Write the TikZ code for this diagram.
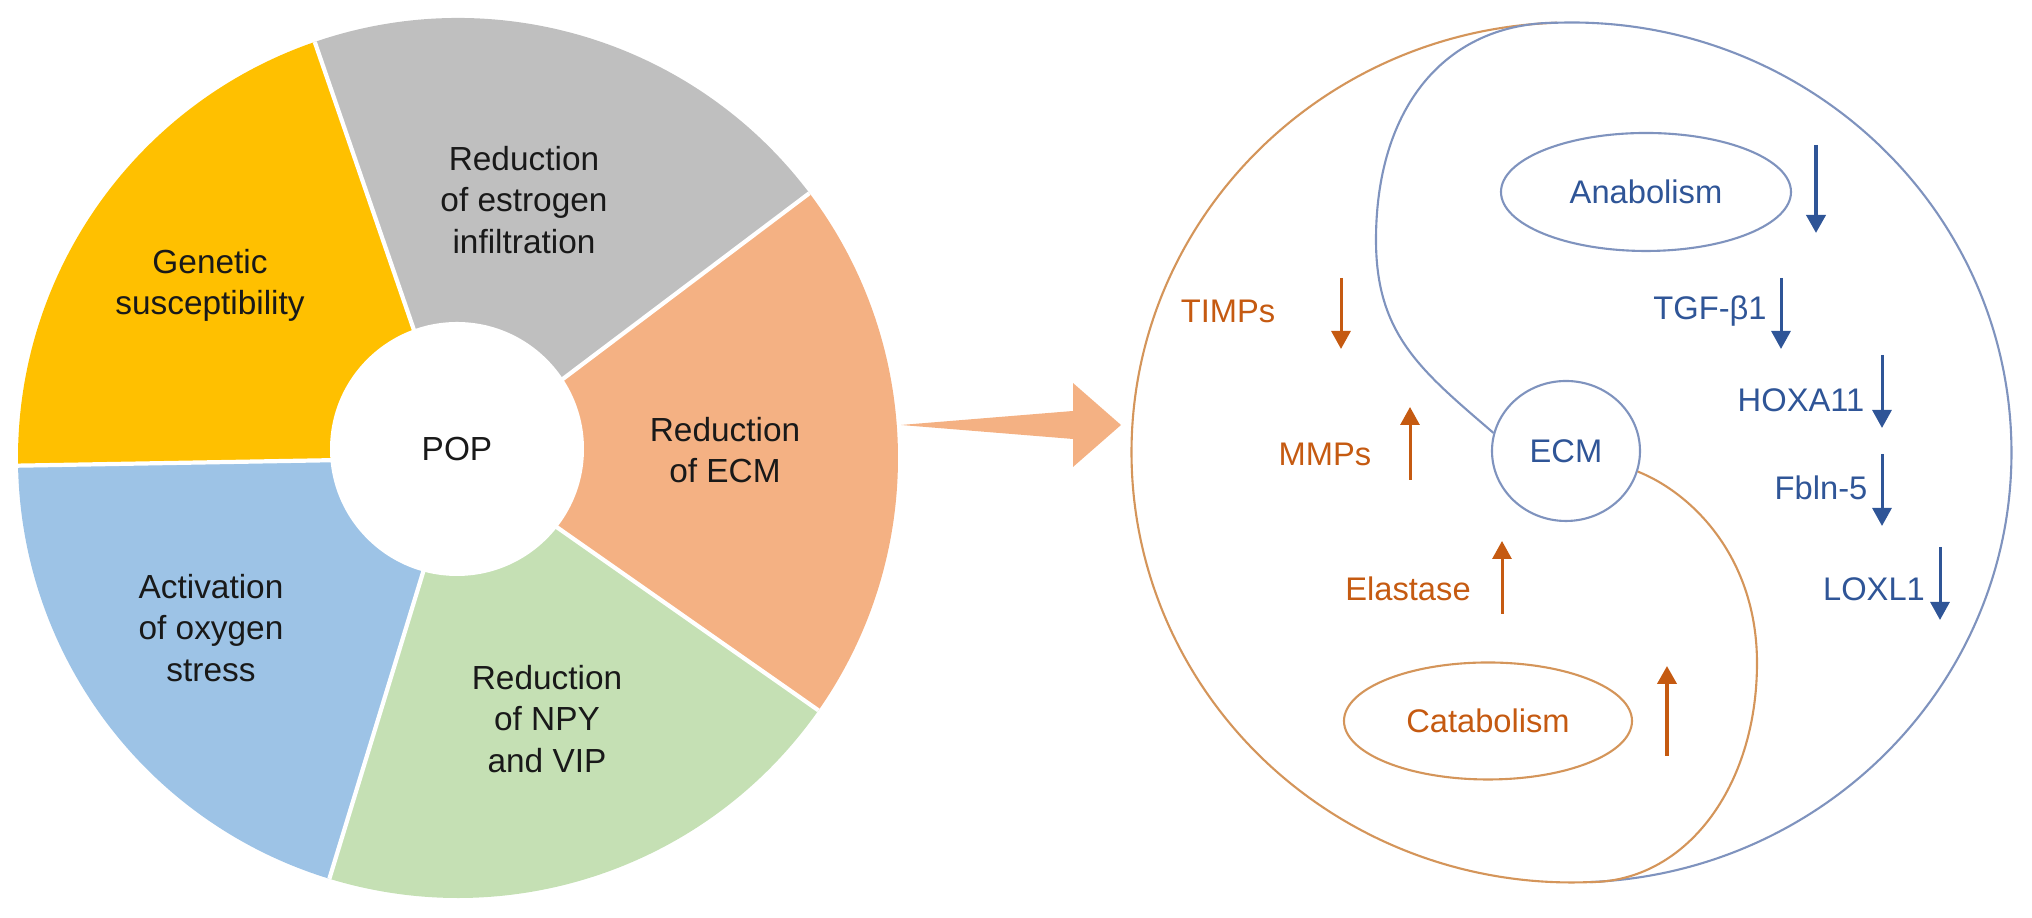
\documentclass[tikz,border=0pt]{standalone}
\usepackage{fontspec}
\setmainfont{Liberation Sans}
\usepackage{xcolor}
\usetikzlibrary{arrows.meta, positioning, shapes.geometric}
\definecolor{pieyellow}{HTML}{FFC000}
\definecolor{piegrey}{HTML}{BFBFBF}
\definecolor{pieorange}{HTML}{F4B183}
\definecolor{pieblue}{HTML}{9DC3E6}
\definecolor{piegreen}{HTML}{C5E0B4}
\definecolor{ecmorange}{HTML}{C55A11}
\definecolor{ecmblue}{HTML}{2F5597}
\definecolor{lineorange}{HTML}{D4955A}
\definecolor{lineblue}{HTML}{7F93BE}

\begin{document}
\begin{tikzpicture}[
    x=0.1mm, y=0.1mm,
    seg/.style={align=center, text=black!90, font=\fontsize{9.5}{11.7}\selectfont},
    sep/.style={draw=white, line width=1.2pt},
    otxt/.style={text=ecmorange, font=\fontsize{9.3}{11}\selectfont},
    btxt/.style={text=ecmblue, font=\fontsize{9.3}{11}\selectfont},
    oline/.style={draw=lineorange, line width=0.6pt},
    bline/.style={draw=lineblue, line width=0.6pt},
    darrow/.style={-{Triangle[width=1.9mm, length=1.8mm]}, line width=0.85pt, draw=ecmblue, fill=ecmblue},
    uarrow/.style={-{Triangle[width=1.9mm, length=1.8mm]}, line width=0.85pt, draw=ecmorange, fill=ecmorange}
]
    \useasboundingbox (0,0) rectangle (2032,918);

    % Kreisdiagramm
    \coordinate (pc) at (458,460);
    \fill[piegrey] (pc) -- ++(37:440) arc[start angle=37, end angle=109, radius=440] -- cycle;
    \fill[pieyellow] (pc) -- ++(109:440) arc[start angle=109, end angle=181, radius=440] -- cycle;
    \fill[pieblue] (pc) -- ++(181:440) arc[start angle=181, end angle=253, radius=440] -- cycle;
    \fill[piegreen] (pc) -- ++(253:440) arc[start angle=253, end angle=325, radius=440] -- cycle;
    \fill[pieorange] (pc) -- ++(325:440) arc[start angle=325, end angle=397, radius=440] -- cycle;
    \draw[sep] (pc) -- ++(37:440);
    \draw[sep] (pc) -- ++(109:440);
    \draw[sep] (pc) -- ++(181:440);
    \draw[sep] (pc) -- ++(253:440);
    \draw[sep] (pc) -- ++(325:440);

    % Mitte
    \node[circle, fill=white, minimum size=25.4mm, seg] (pop) at (457,469) {POP};

    % Segmente
    \node[seg] (estro) at (524,718) {Reduction\\of estrogen\\infiltration};
    \node[seg] (genet) at (210,633) {Genetic\\susceptibility};
    \node[seg] (redecm) at (725,468) {Reduction\\of ECM};
    \node[seg] (oxy) at (211,290) {Activation\\of oxygen\\stress};
    \node[seg] (npy) at (547,199) {Reduction\\of NPY\\and VIP};

    % Pfeil
    \coordinate (bigtail) at (901,493);
    \fill[pieorange] (bigtail) -- ++(172,14) -- ++(0,28) -- ++(48,-42) -- ++(-48,-42) -- ++(0,28) -- cycle;

    % Yin-Yang
    \coordinate (yc) at (1571.5,465.5);
    \path (yc) ++(91.9:440 and 430) coordinate (ytop);
    \path (yc) ++(-87.6:440 and 430) coordinate (ybot);
    \draw[oline] (ytop) arc[start angle=91.9, end angle=272.4, x radius=440, y radius=430];
    \draw[bline] (ytop) arc[start angle=91.9, end angle=-87.6, x radius=440, y radius=430];

    \node[ellipse, bline, minimum width=14.8mm, minimum height=14mm, inner sep=0pt, btxt] (ecm) at (1566,467) {ECM};
    \node[ellipse, bline, minimum width=29mm, minimum height=11.8mm, btxt] (ana) at (1646,726) {Anabolism};
    \node[ellipse, oline, minimum width=28.8mm, minimum height=11.7mm, otxt] (cata) at (1488,197) {Catabolism};

    \draw[bline] (ytop) .. controls +(-112,0) and +(0,132) .. (1376,678) .. controls +(0,-95) and +(-72,62) .. (ecm.166);
    \draw[oline] (ecm.-16) .. controls +(55,-22) and +(0,105) .. (1757,255) .. controls +(0,-125) and +(95,0) .. (ybot);

    % Abbau
    \node[otxt] (timps) at (1228,607) {TIMPs};
    \node[otxt] (mmps) at (1325,464) {MMPs};
    \node[otxt] (elast) at (1408,329) {Elastase};
    \draw[uarrow] (1341,640) -- (1341,569);
    \draw[uarrow] (1410,438) -- (1410,511);
    \draw[uarrow] (1502,304) -- (1502,377);
    \draw[uarrow, line width=1.1pt] (1667,162) -- (1667,252);

    % Aufbau
    \node[btxt] (tgf) at (1710,607) {TGF-β1};
    \node[btxt] (hoxa) at (1801,518) {HOXA11};
    \node[btxt] (fbln) at (1821,430) {Fbln-5};
    \node[btxt] (loxl) at (1874,329) {LOXL1};
    \draw[darrow, line width=1.1pt] (1816,773) -- (1816,685);
    \draw[darrow] (1781,640) -- (1781,569);
    \draw[darrow] (1882,563) -- (1882,490);
    \draw[darrow] (1882,464) -- (1882,392);
    \draw[darrow] (1940,371) -- (1940,298);
\end{tikzpicture}
\end{document}
